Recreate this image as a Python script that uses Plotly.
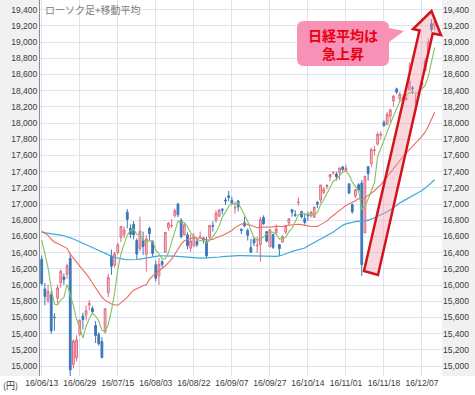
import plotly.graph_objects as go

# ---------------- data ----------------
dates = ["16/06/13","16/06/14","16/06/15","16/06/16","16/06/17","16/06/20","16/06/21","16/06/22","16/06/23","16/06/24",
         "16/06/27","16/06/28","16/06/29","16/06/30","16/07/01","16/07/04","16/07/05","16/07/06","16/07/07","16/07/08",
         "16/07/11","16/07/12","16/07/13","16/07/14","16/07/15","16/07/19","16/07/20","16/07/21","16/07/22","16/07/25",
         "16/07/26","16/07/27","16/07/28","16/07/29","16/08/01","16/08/02","16/08/03","16/08/04","16/08/05","16/08/08",
         "16/08/09","16/08/10","16/08/12","16/08/15","16/08/16","16/08/17","16/08/18","16/08/19","16/08/22","16/08/23",
         "16/08/24","16/08/25","16/08/26","16/08/29","16/08/30","16/08/31","16/09/01","16/09/02","16/09/05","16/09/06",
         "16/09/07","16/09/08","16/09/09","16/09/12","16/09/13","16/09/14","16/09/15","16/09/16","16/09/20","16/09/21",
         "16/09/23","16/09/26","16/09/27","16/09/28","16/09/29","16/09/30","16/10/03","16/10/04","16/10/05","16/10/06",
         "16/10/07","16/10/11","16/10/12","16/10/13","16/10/14","16/10/17","16/10/18","16/10/19","16/10/20","16/10/21",
         "16/10/24","16/10/25","16/10/26","16/10/27","16/10/28","16/10/31","16/11/01","16/11/02","16/11/04","16/11/07",
         "16/11/08","16/11/09","16/11/10","16/11/11","16/11/14","16/11/15","16/11/16","16/11/17","16/11/18","16/11/21",
         "16/11/22","16/11/24","16/11/25","16/11/28","16/11/29","16/11/30","16/12/01","16/12/02","16/12/05","16/12/06",
         "16/12/07","16/12/08","16/12/09","16/12/12","16/12/13"]

open_ = [16319,15951,15810,15880,15605,15836,16026,16099,16133,16330,
         15020,15100,15391,15617,15629,15753,15711,15501,15390,15303,
         15420,15905,16360,16245,16400,16590,16620,16900,16700,16750,
         16550,16450,16550,16380,16700,16540,16250,16112,16290,16403,
         16707,16730,16855,16999,16800,16622,16620,16455,16480,16540,
         16595,16580,16540,16590,16733,16800,16850,16935,17050,17101,
         17046,16950,17039,16689,16770,16675,16463,16561,16484,16500,
         16834,16660,16471,16623,16645,16500,16530,16653,16766,16930,
         16868,17019,16910,16820,16870,16853,16835,17023,17050,17140,
         17218,17333,17387,17372,17386,17460,17408,17250,16993,17098,
         17239,17260,16644,17461,17498,17660,17740,17849,18008,17987,
         18085,18273,18421,18302,18299,18291,18411,18436,18271,18353,
         18473,18646,18882,19227,19198]

high = [16365,16025,16007,15929,15650,16006,16191,16143,16262,16389,
        15330,15381,15574,15658,15747,15814,15741,15555,15418,15357,
        15708,16138,16437,16409,16521,16729,16723,16938,16750,16790,
        16575,16845,16660,16615,16722,16553,16302,16334,16309,16650,
        16777,16815,16943,17015,16826,16763,16650,16627,16640,16579,
        16661,16596,16593,16738,16787,16923,16936,16950,17079,17162,
        17092,17030,17048,16700,16840,16697,16570,16591,16597,16844,
        16860,16660,16695,16623,16747,16500,16617,16737,16819,16935,
        16924,17078,16914,16883,16907,16914,16964,17031,17235,17209,
        17235,17367,17402,17398,17446,17464,17491,17250,17008,17183,
        17257,17297,17344,17470,17697,17719,17885,17899,18034,18139,
        18178,18345,18437,18385,18352,18356,18746,18457,18354,18401,
        18502,18800,19042,19280,19275]

low = [15993,15749,15777,15395,15436,15771,15967,16002,16076,14864,
       14970,15060,15375,15451,15560,15687,15640,15284,15252,15094,
       15400,15850,16125,16215,16382,16530,16578,16700,16580,16565,
       16310,16419,16371,16167,16551,16350,16044,16000,16222,16395,
       16672,16704,16835,16839,16576,16611,16441,16410,16478,16470,
       16580,16512,16330,16568,16659,16769,16842,16871,16990,17036,
       16994,16880,16910,16629,16714,16550,16397,16480,16397,16290,
       16745,16524,16471,16446,16637,16357,16522,16627,16735,16842,
       16840,16980,16822,16746,16792,16835,16830,16949,17015,17126,
       17181,17283,17360,17289,17297,17403,17396,17126,16880,17073,
       17144,16111,16640,17288,17457,17602,17723,17797,17955,17968,
       18009,18201,18360,18255,18257,18274,18411,18360,18227,18308,
       18432,18645,18852,19125,19141]

close = [16019,15859,15919,15434,15599,15965,16169,16065,16238,14952,
         15309,15323,15566,15575,15682,15775,15669,15378,15276,15106,
         15708,16095,16231,16385,16497,16723,16681,16810,16627,16620,
         16383,16664,16476,16569,16635,16391,16083,16254,16254,16650,
         16764,16735,16919,16869,16596,16745,16486,16545,16598,16497,
         16597,16556,16360,16737,16725,16887,16926,16925,17037,17081,
         17012,16958,16965,16672,16729,16614,16405,16519,16492,16807,
         16754,16544,16683,16465,16693,16449,16598,16735,16819,16899,
         16860,17024,16840,16774,16856,16900,16963,16998,17235,17184,
         17234,17365,17391,17336,17446,17425,17442,17134,16905,17177,
         17171,16251,17344,17374,17672,17668,17862,17862,17967,18106,
         18162,18333,18381,18356,18307,18308,18513,18426,18274,18360,
         18496,18765,18996,19155,19250]

ma5 = [16559,16395,16213,15966,15766,15755,15817,15846,16007,15878,
       15747,15577,15478,15345,15491,15584,15653,15616,15556,15441,
       15427,15513,15683,15905,16183,16386,16503,16619,16668,16692,
       16624,16621,16554,16542,16545,16547,16431,16386,16323,16326,
       16401,16531,16664,16787,16777,16773,16723,16648,16594,16574,
       16545,16559,16522,16549,16595,16653,16727,16840,16900,16971,
       16996,17003,17011,16938,16867,16788,16677,16588,16552,16567,
       16595,16623,16656,16651,16628,16567,16578,16588,16659,16700,
       16782,16867,16888,16879,16871,16879,16867,16898,16990,17056,
       17123,17203,17282,17302,17354,17393,17408,17357,17270,17217,
       17166,16928,16970,17063,17162,17262,17584,17688,17806,17893,
       17992,18086,18190,18268,18308,18337,18373,18382,18366,18376,
       18414,18464,18578,18754,18932]

ma25 = [16668,16640,16613,16565,16532,16512,16493,16470,16453,16382,
        16328,16281,16234,16186,16140,16088,16025,15962,15911,15849,
        15814,15791,15767,15756,15752,15780,15813,15848,15896,15937,
        15954,15974,15990,16003,16071,16114,16144,16172,16199,16238,
        16277,16320,16381,16445,16505,16546,16562,16574,16583,16583,
        16578,16573,16555,16559,16564,16584,16594,16612,16631,16649,
        16674,16709,16737,16754,16757,16751,16738,16722,16707,16715,
        16715,16718,16723,16718,16726,16720,16721,16736,16740,16747,
        16746,16750,16746,16736,16727,16722,16722,16724,16746,16764,
        16789,16828,16862,16896,16922,16949,16985,17003,17020,17040,
        17068,17055,17079,17101,17132,17164,17198,17239,17286,17336,
        17387,17442,17497,17542,17587,17630,17676,17717,17755,17791,
        17834,17887,17961,18051,18134]

ma75 = [16650,16646,16642,16637,16632,16625,16617,16608,16598,16583,
        16568,16552,16536,16518,16500,16482,16464,16445,16426,16408,
        16390,16373,16357,16343,16331,16322,16316,16312,16310,16311,
        16315,16321,16328,16336,16344,16351,16356,16359,16361,16362,
        16362,16360,16357,16353,16349,16345,16341,16338,16335,16333,
        16332,16332,16333,16335,16338,16342,16346,16350,16354,16358,
        16361,16363,16364,16364,16363,16361,16358,16355,16352,16350,
        16349,16349,16350,16351,16353,16359,16369,16380,16398,16416,
        16428,16439,16449,16457,16482,16503,16525,16544,16566,16586,
        16606,16628,16655,16683,16714,16737,16755,16767,16774,16783,
        16789,16783,16790,16800,16814,16831,16847,16866,16884,16904,
        16928,16958,16986,17014,17036,17057,17080,17100,17119,17143,
        17166,17197,17229,17263,17300]

tick_dates = ["16/06/13","16/06/29","16/07/15","16/08/03","16/08/22","16/09/07",
              "16/09/27","16/10/14","16/11/01","16/11/18","16/12/07"]
y_ticks = list(range(15000, 19401, 200))
y_labels = [f"{v:,}" for v in y_ticks]

chart_title = "ローソク足+移動平均"
callout_text = "日経平均は<br>急上昇"
unit_label = "(円)"

# ---------------- layout geometry (pixels) ----------------
W, H = 475, 395
ML, MR, MT, MB = 40, 33, 0, 19
PW, PH = W - ML - MR, H - MT - MB


def P(px, py):
    return f"{(px - ML) / PW:.4f},{1 - (py - MT) / PH:.4f}"


def path(points, close_path=True):
    s = "M " + " L ".join(P(x, y) for x, y in points)
    return s + (" Z" if close_path else "")


FONT = "Liberation Sans, Arial, sans-serif"
JFONT = "Noto Sans CJK JP, sans-serif"
GRID = "#dde4f1"
TICKF = dict(family=FONT, size=8.5, color="#3a3a3a")

fig = go.Figure()

fig.add_trace(go.Scatter(x=dates, y=ma75, mode="lines",
                         line=dict(color="#3eaad6", width=1.2), hoverinfo="skip"))
fig.add_trace(go.Scatter(x=dates, y=ma25, mode="lines",
                         line=dict(color="#ec6a5e", width=1.1), hoverinfo="skip"))
fig.add_trace(go.Scatter(x=dates, y=ma5, mode="lines",
                         line=dict(color="#86c160", width=1.1), hoverinfo="skip"))

fig.add_trace(go.Candlestick(
    x=dates, open=open_, high=high, low=low, close=close,
    increasing=dict(line=dict(color="#e3697f", width=1), fillcolor="#f7c6cf"),
    decreasing=dict(line=dict(color="#3a78bb", width=1), fillcolor="#3a78bb"),
    whiskerwidth=0, hoverinfo="skip"))

# invisible trace to carry the right-hand price axis
fig.add_trace(go.Scatter(x=dates, y=close, yaxis="y2", mode="lines",
                         line=dict(color="rgba(0,0,0,0)", width=0), hoverinfo="skip"))

yr = [14877, 19519]
xr = [-0.54, (W - MR - 41.7) / 3.169]

fig.update_layout(
    width=W, height=H,
    margin=dict(l=ML, r=MR, t=MT, b=MB, pad=0),
    paper_bgcolor="white", plot_bgcolor="white",
    showlegend=False, hovermode=False, boxgap=0.2,
    xaxis=dict(type="category", range=xr, rangeslider=dict(visible=False),
               tickmode="array", tickvals=tick_dates, ticktext=tick_dates,
               showgrid=True, gridcolor=GRID, gridwidth=1, zeroline=False,
               showline=False, ticks="", tickfont=TICKF),
    yaxis=dict(range=yr, tickmode="array", tickvals=y_ticks, ticktext=y_labels,
               showgrid=True, gridcolor=GRID, gridwidth=1, zeroline=False,
               showline=True, linecolor="#8c8c8c", linewidth=1, ticks="",
               tickfont=TICKF),
    yaxis2=dict(range=yr, overlaying="y", side="right", tickmode="array",
                tickvals=y_ticks, ticktext=y_labels, showgrid=False, zeroline=False,
                showline=False, ticks="", tickfont=TICKF),
)

shapes = []
# grey label panels
shapes.append(dict(type="rect", xref="paper", yref="paper", x0=-ML / PW, x1=0, y0=0, y1=1,
                   fillcolor="#f1f1f1", line=dict(width=0), layer="below"))
shapes.append(dict(type="rect", xref="paper", yref="paper", x0=1, x1=1 + MR / PW, y0=0, y1=1,
                   fillcolor="#f1f1f1", line=dict(width=0), layer="below"))
# big rising arrow
arrow_pts = [(364, 271), (378, 275), (432.7, 33.5), (441, 35), (431.5, 11), (413, 29), (419.5, 30.5)]
shapes.append(dict(type="path", xref="paper", yref="paper", path=path(arrow_pts),
                   fillcolor="rgba(240,150,165,0.38)", line=dict(color="#d4141c", width=2.5),
                   layer="above"))
# callout bubble
x0, x1, y0, y1, r = 297, 389, 21, 66, 7
bubble = (f"M {P(x0 + r, y0)} L {P(x1 - r, y0)} Q {P(x1, y0)} {P(x1, y0 + r)} "
          f"L {P(404, 31)} L {P(x1, 42)} L {P(x1, y1 - r)} Q {P(x1, y1)} {P(x1 - r, y1)} "
          f"L {P(x0 + r, y1)} Q {P(x0, y1)} {P(x0, y1 - r)} L {P(x0, y0 + r)} "
          f"Q {P(x0, y0)} {P(x0 + r, y0)} Z")
shapes.append(dict(type="path", xref="paper", yref="paper", path=bubble,
                   fillcolor="#f891b6", line=dict(width=0), layer="above"))
fig.update_layout(shapes=shapes)

fig.add_annotation(text=chart_title, xref="paper", yref="paper",
                   x=3 / PW, y=1 - 10 / PH, xanchor="left", yanchor="middle",
                   showarrow=False, font=dict(family=JFONT, size=10, color="#808080"))
fig.add_annotation(text=callout_text, xref="paper", yref="paper",
                   x=(343 - ML) / PW, y=1 - 44 / PH, xanchor="center", yanchor="middle",
                   showarrow=False, align="center",
                   font=dict(family=JFONT, size=14, color="#e60012", weight="bold"))
fig.add_annotation(text=unit_label, xref="paper", yref="paper",
                   x=(11 - ML) / PW, y=1 - 385 / PH, xanchor="center", yanchor="middle",
                   showarrow=False, font=dict(family=JFONT, size=9, color="#333"))

fig.write_html("out.html", config=dict(displayModeBar=False),
               post_script="document.body.style.margin='0px';")
